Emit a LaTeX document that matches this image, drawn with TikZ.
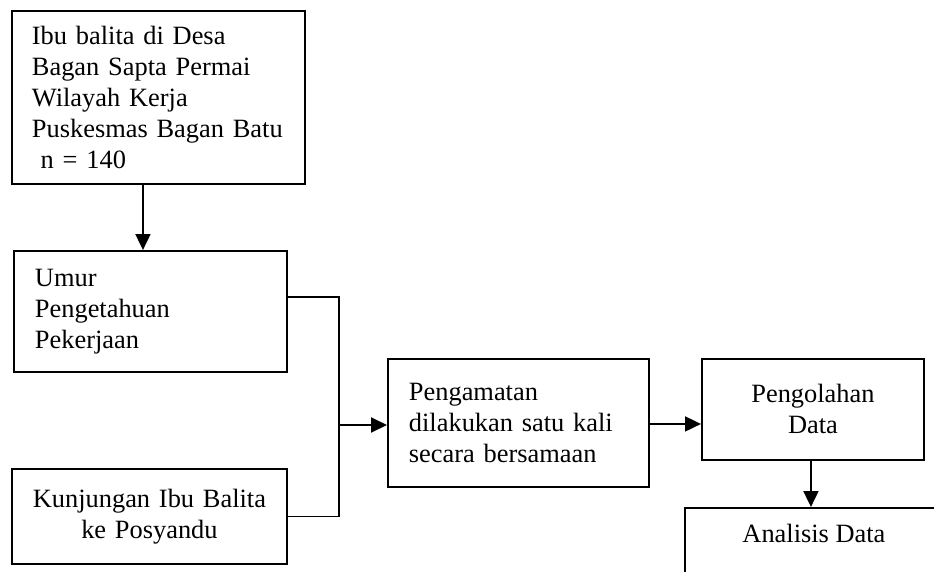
\documentclass[tikz,border=0pt]{standalone}
\usepackage{fontspec}
\setmainfont{Liberation Serif}
\usetikzlibrary{arrows.meta,calc}
\tikzset{
  box/.style={draw, line width=1.9pt, rectangle, inner sep=0pt, anchor=north west,
    font=\fontsize{26.4}{31}\selectfont},
  arr/.style={line width=1.9pt, -{Triangle[length=16pt,width=15pt]}},
  ln/.style={line width=1.9pt},
}
\begin{document}
\begin{tikzpicture}[x=1pt,y=-1pt]
\useasboundingbox (0,0) rectangle (934,572);
\clip (0,0) rectangle (934,572);
\fill[white] (0,0) rectangle (934,572);
\node[box, minimum width=293pt, minimum height=173pt, text width=253pt, align=left] (b1) at (11,10)
  {Ibu balita di Desa\\Bagan Sapta Permai\\Wilayah Kerja\\Puskesmas Bagan Batu\\\ n = 140};
\node[box, minimum width=273pt, minimum height=121pt, text width=231pt, align=left] (b2) at (13,250)
  {Umur\\Pengetahuan\\Pekerjaan};
\node[box, minimum width=275pt, minimum height=95pt, text width=275pt, align=center] (b3) at (11,468)
  {Kunjungan Ibu Balita\\ke Posyandu};
\node[box, minimum width=261pt, minimum height=128pt, text width=219pt, align=left] (obs) at (387,358)
  {Pengamatan\\dilakukan satu kali\\secara bersamaan};
\node[box, minimum width=222pt, minimum height=101pt, text width=222pt, align=center] (peng) at (701,358)
  {Pengolahan\\Data};
\node[box, minimum width=258pt, minimum height=100pt] (ana) at (684,507) {};
\node[font=\fontsize{26.4}{31}\selectfont, inner sep=0pt] (anat) at ($(ana.north)+(0,26)$) {Analisis Data};
\coordinate (j) at (339,425);
\draw[arr] ([xshift=-15.5pt]b1.south) -- ([xshift=-7.5pt]b2.north);
\draw[ln] ([yshift=14.5pt]b2.east) -| (j);
\draw[ln] (b3.east) -| (j);
\draw[arr] (j) -- (obs.west |- j);
\draw[arr] ([yshift=-1pt]obs.east) -- ([yshift=-1pt]obs.east -| peng.west);
\draw[arr] ([xshift=-2pt]peng.south) -- ([xshift=-2pt]peng.south |- ana.north);
\end{tikzpicture}
\end{document}
